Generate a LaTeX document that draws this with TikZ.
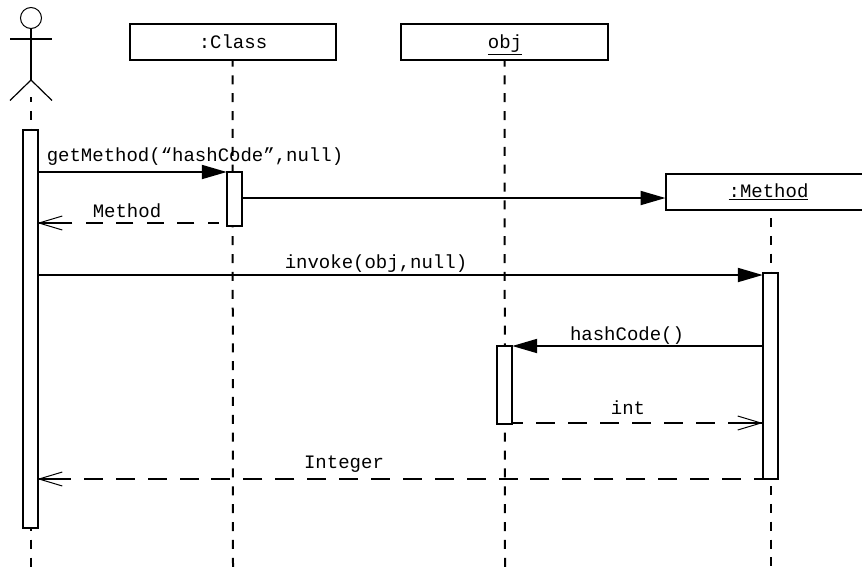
\documentclass[tikz,border=0pt]{standalone}
\usepackage{fontspec}
\setmainfont{Liberation Mono}
\usetikzlibrary{arrows.meta}
\usetikzlibrary{calc}
\tikzset{
	objbox/.style={draw, fill=white, line width=1.5pt, inner sep=0pt, outer sep=0pt, minimum width=154.5pt, minimum height=27pt},
	lifebar/.style={draw, fill=white, line width=1.5pt, inner sep=0pt, outer sep=0pt, minimum width=11.6pt},
	lifeline/.style={line width=1.5pt, dash pattern=on 6.75pt off 6.65pt},
	callarrow/.style={line width=1.5pt, -{Triangle[length=18.75pt,width=10.5pt]}},
	replyhead/.style={line width=1.5pt, -{Straight Barb[length=17.5pt,width=10.5pt,line width=0.75pt]}},
	msglabel/.style={anchor=base, inner sep=0pt}
}
\newcommand{\activation}[4] % name, x in px, top in px, bottom in px
{
	\node[lifebar, minimum height={(#4-#3)*0.75pt}] (#1) at (#2,{(#3+#4)/2}) {};
}
\newcommand{\replymsg}[4] % from, to, dash options, stub length in px
{
	% dashed line
	\draw[line width=1.5pt, #3] (#1) -- (#2);
	% head with its solid stub
	\draw[replyhead] ($(#2)+(#4,0)$) -- (#2);
}
\begin{document}
\begin{tikzpicture}[x=0.75pt, y=-0.75pt, font=\fontsize{14.25}{16}\selectfont]
	% page: 862 x 568 px
	\useasboundingbox (0,0) rectangle (862,568);

	% object boxes
	\node[objbox] (boxClass) at (232.5,41.5) {};
	\node[msglabel] (txtClass) at (233,48) {:Class};
	\node[objbox, minimum width=155.25pt] (boxObj) at (504.5,41.5) {};
	\node[msglabel] (txtObj) at (505,48) {\underline{obj}};
	\node[objbox] (boxMethod) at (768.5,191.5) {};
	\node[msglabel] (txtMethod) at (768.5,197) {\underline{:Method}};

	% actor
	\node[draw, circle, line width=0.75pt, minimum size=15.75pt, inner sep=0pt] (head) at (31,18) {};
	\coordinate (hip) at (31,80);
	\coordinate (armL) at (10,38.5);
	\coordinate (armR) at (52,38.5);
	\coordinate (legL) at (10,100.5);
	\coordinate (legR) at (52,100.5);
	\draw[line width=1.5pt] (head.south) -- (hip);
	\draw[line width=1.5pt] (armL) -- (armR);
	\draw[line width=0.9pt] (legL) -- (hip) -- (legR);

	% lifelines
	\coordinate (lifeActor) at (31,97);
	\coordinate (endActor) at (31,568);
	\coordinate (endClass) at (233,568);
	\coordinate (endObj) at (505,568);
	\coordinate (lifeMethod) at (771,218);
	\coordinate (endMethod) at (771,568);
	\draw[lifeline, dash phase=3pt] (lifeActor) -- (endActor);
	\draw[lifeline, dash phase=1.5pt] (boxClass.south) -- (endClass);
	\draw[lifeline, dash phase=1.5pt] (boxObj.south) -- (endObj);
	\draw[lifeline] (lifeMethod) -- (endMethod);

	% activation bars
	\activation{barActor}{30.5}{130}{527.5}
	\activation{barClass}{234.5}{172}{226}
	\activation{barObj}{504.5}{346}{424}
	\activation{barMethod}{770.5}{273}{479}

	% calls
	\draw[callarrow] (barActor.east |- barClass.north west) -- (barClass.north west);
	\draw[callarrow] ($(barClass.east)+(0,-1)$) -- ($(barClass.east -| boxMethod.west)+(0,-1)$);
	\draw[callarrow] ($(barActor.east |- barMethod.north west)+(0,2)$) -- ($(barMethod.north west)+(0,2)$);
	\draw[callarrow] (barMethod.west |- barObj.north east) -- (barObj.north east);

	% replies
	\coordinate (retFrom) at ($(barClass.south west)+(-8,-3)$);
	\coordinate (retTo) at ($(barActor.east |- barClass.south west)+(-1,-3)$);
	\coordinate (intFrom) at ($(barObj.south east)+(0,-1)$);
	\coordinate (intTo) at ($(barMethod.west |- barObj.south east)+(0,-1)$);
	\coordinate (integerFrom) at (barMethod.south west);
	\coordinate (integerTo) at ($(barActor.east |- barMethod.south west)+(-1,0)$);
	\replymsg{retFrom}{retTo}{dash pattern=on 12.75pt off 10.1pt, dash phase=4.5pt}{34}
	\replymsg{intFrom}{intTo}{dash pattern=on 14.25pt off 9.75pt, dash phase=6pt}{-32}
	\replymsg{integerFrom}{integerTo}{dash pattern=on 14.25pt off 9.675pt, dash phase=7.5pt}{33}

	% message labels
	\node[msglabel] (txtGet) at (195,161) {getMethod(“hashCode”,null)};
	\node[msglabel] (txtRet) at (127,217) {Method};
	\node[msglabel] (txtInvoke) at (376,268) {invoke(obj,null)};
	\node[msglabel] (txtHash) at (627,340) {hashCode()};
	\node[msglabel] (txtInt) at (628,414) {int};
	\node[msglabel] (txtInteger) at (344,468) {Integer};
\end{tikzpicture}
\end{document}
